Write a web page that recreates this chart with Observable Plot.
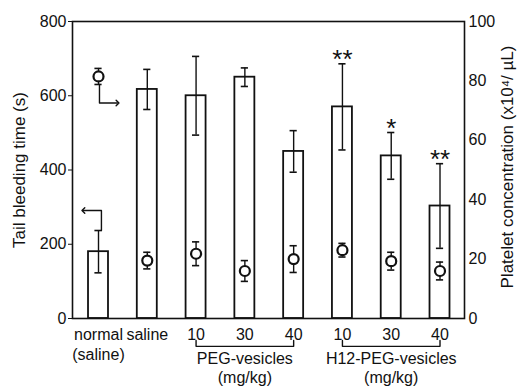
<!DOCTYPE html>
<html><head><meta charset="utf-8">
<script src="https://cdn.jsdelivr.net/npm/d3@7"></script>
<script src="https://cdn.jsdelivr.net/npm/@observablehq/plot@0.6"></script>
<style>body{margin:0;background:#fff}</style>
</head><body><div id="chart"></div>
<script>
// ---- data ----
const categories = ["normal\n(saline)", "saline", "10", "30", "40", "10", "30", "40"];
const bleedingTime = [180, 617, 600, 650, 450, 570, 438, 303];     // s
const bleedingErr  = [57, 54, 106, 25, 56, 116, 63, 114];
const platelet     = [81.5, 19.5, 21.8, 16, 20, 23, 19.3, 16];      // x10^4/uL
const plateletErr  = [2.7, 2.8, 4, 3.5, 4.5, 2.3, 3, 3];
const significance = ["", "", "", "", "", "**", "*", "**"];
const groupNames = ["PEG-vesicles", "H12-PEG-vesicles"];
const groupFrom = [2, 5];
const groupTo = [4, 7];
const leftTicks = [0, 200, 400, 600, 800];
const rightTicks = [0, 20, 40, 60, 80, 100];

const ink = "#111";
const ratio = 800 / 100; // left-axis units per right-axis unit

const rows = categories.map((c, i) => ({
  i, label: c,
  time: bleedingTime[i], terr: bleedingErr[i],
  plt: platelet[i] * ratio, perr: plateletErr[i] * ratio,
  sig: significance[i]
}));
const starRows = rows.filter(d => d.sig);
const groups = groupNames.map((name, k) => ({name, from: groupFrom[k], to: groupTo[k], mid: (groupFrom[k] + groupTo[k]) / 2}));

// bracket below the axis (in left-axis units, below zero)
const bracketTop = -59, bracketBottom = -75;
const bracketPts = groups.flatMap((g, k) => [
  {k, x: g.from, y: bracketTop}, {k, x: g.from, y: bracketBottom},
  {k, x: g.to, y: bracketBottom}, {k, x: g.to, y: bracketTop}
]);

// pointers showing which axis each symbol refers to
const n0 = rows[0];
const pointers = [
  {k: 0, x: 0.02, y: n0.plt - n0.perr}, {k: 0, x: 0.02, y: n0.plt - n0.perr - 50}, {k: 0, x: 0.39, y: n0.plt - n0.perr - 50},
  {k: 1, x: 0.06, y: n0.time + n0.terr}, {k: 1, x: 0.06, y: n0.time + n0.terr + 54}, {k: 1, x: -0.31, y: n0.time + n0.terr + 54}
];

const half = 0.5;
const chart = Plot.plot({
  width: 519,
  height: 388,
  marginTop: 21,
  marginBottom: 70,
  marginLeft: 72,
  marginRight: 55,
  style: {fontFamily: "'Liberation Sans', Arial, Helvetica, sans-serif", fontSize: "16px", color: ink, background: "#fff"},
  x: {domain: [-0.533, 7.502]},
  y: {domain: [0, 800]},
  marks: [
    Plot.rectY(rows, {x1: d => d.i - half, x2: d => d.i + half, y1: 0, y2: "time", insetLeft: 14.4, insetRight: 14.4, fill: "white", stroke: ink, strokeWidth: 1.8}),
    Plot.ruleX(rows, {x: "i", y1: d => d.time - d.terr, y2: d => d.time + d.terr, stroke: ink, strokeWidth: 1.4}),
    Plot.ruleY(rows, {x1: d => d.i - half, x2: d => d.i + half, y: d => d.time + d.terr, insetLeft: 20.8, insetRight: 20.8, stroke: ink, strokeWidth: 1.6}),
    Plot.ruleY(rows, {x1: d => d.i - half, x2: d => d.i + half, y: d => d.time - d.terr, insetLeft: 20.8, insetRight: 20.8, stroke: ink, strokeWidth: 1.6}),
    Plot.ruleX(rows, {x: "i", y1: d => d.plt - d.perr, y2: d => d.plt + d.perr, stroke: ink, strokeWidth: 1.4}),
    Plot.ruleY(rows, {x1: d => d.i - half, x2: d => d.i + half, y: d => d.plt + d.perr, insetLeft: 20.8, insetRight: 20.8, stroke: ink, strokeWidth: 1.6}),
    Plot.ruleY(rows, {x1: d => d.i - half, x2: d => d.i + half, y: d => d.plt - d.perr, insetLeft: 20.8, insetRight: 20.8, stroke: ink, strokeWidth: 1.6}),
    Plot.dot(rows, {x: "i", y: "plt", r: 5, fill: "white", stroke: ink, strokeWidth: 2.2}),
    Plot.text(starRows, {x: "i", y: d => d.time + d.terr, text: "sig", lineAnchor: "bottom", dy: 4, fontSize: 26, fill: ink}),
    Plot.line(pointers, {x: "x", y: "y", z: "k", stroke: ink, strokeWidth: 1.4, markerEnd: "arrow"}),
    Plot.line(bracketPts, {x: "x", y: "y", z: "k", stroke: ink, strokeWidth: 1.4, clip: false}),
    Plot.text(groups, {x: "mid", y: 0, text: d => d.name + "\n(mg/kg)", lineAnchor: "top", dy: 32, lineHeight: 1.2, fontSize: 16, fill: ink}),
    Plot.frame({stroke: ink, strokeWidth: 1.6}),
    Plot.axisY({ticks: leftTicks, tickSize: 4, tickPadding: 2, label: null, fontSize: 16, stroke: ink}),
    Plot.axisY({anchor: "right", ticks: rightTicks.map(v => v * ratio), tickFormat: v => v / ratio, tickSize: 0, tickPadding: 4, label: null, fontSize: 16}),
    Plot.axisX({ticks: rows.map(d => d.i), tickFormat: i => categories[i], tickSize: 0, tickPadding: 8, lineHeight: 1.22, label: null, fontSize: 16}),
    Plot.text(["Tail bleeding time (s)"], {frameAnchor: "left", dx: -53, rotate: -90, textAnchor: "middle", fontSize: 17, fill: ink}),
    Plot.text(["Platelet concentration (x10\u2074/ \u00b5L)"], {frameAnchor: "right", dx: 43, dy: -3, rotate: -90, textAnchor: "middle", fontSize: 17, fill: ink})
  ]
});
document.getElementById("chart").appendChild(chart);
</script>
</body></html>
